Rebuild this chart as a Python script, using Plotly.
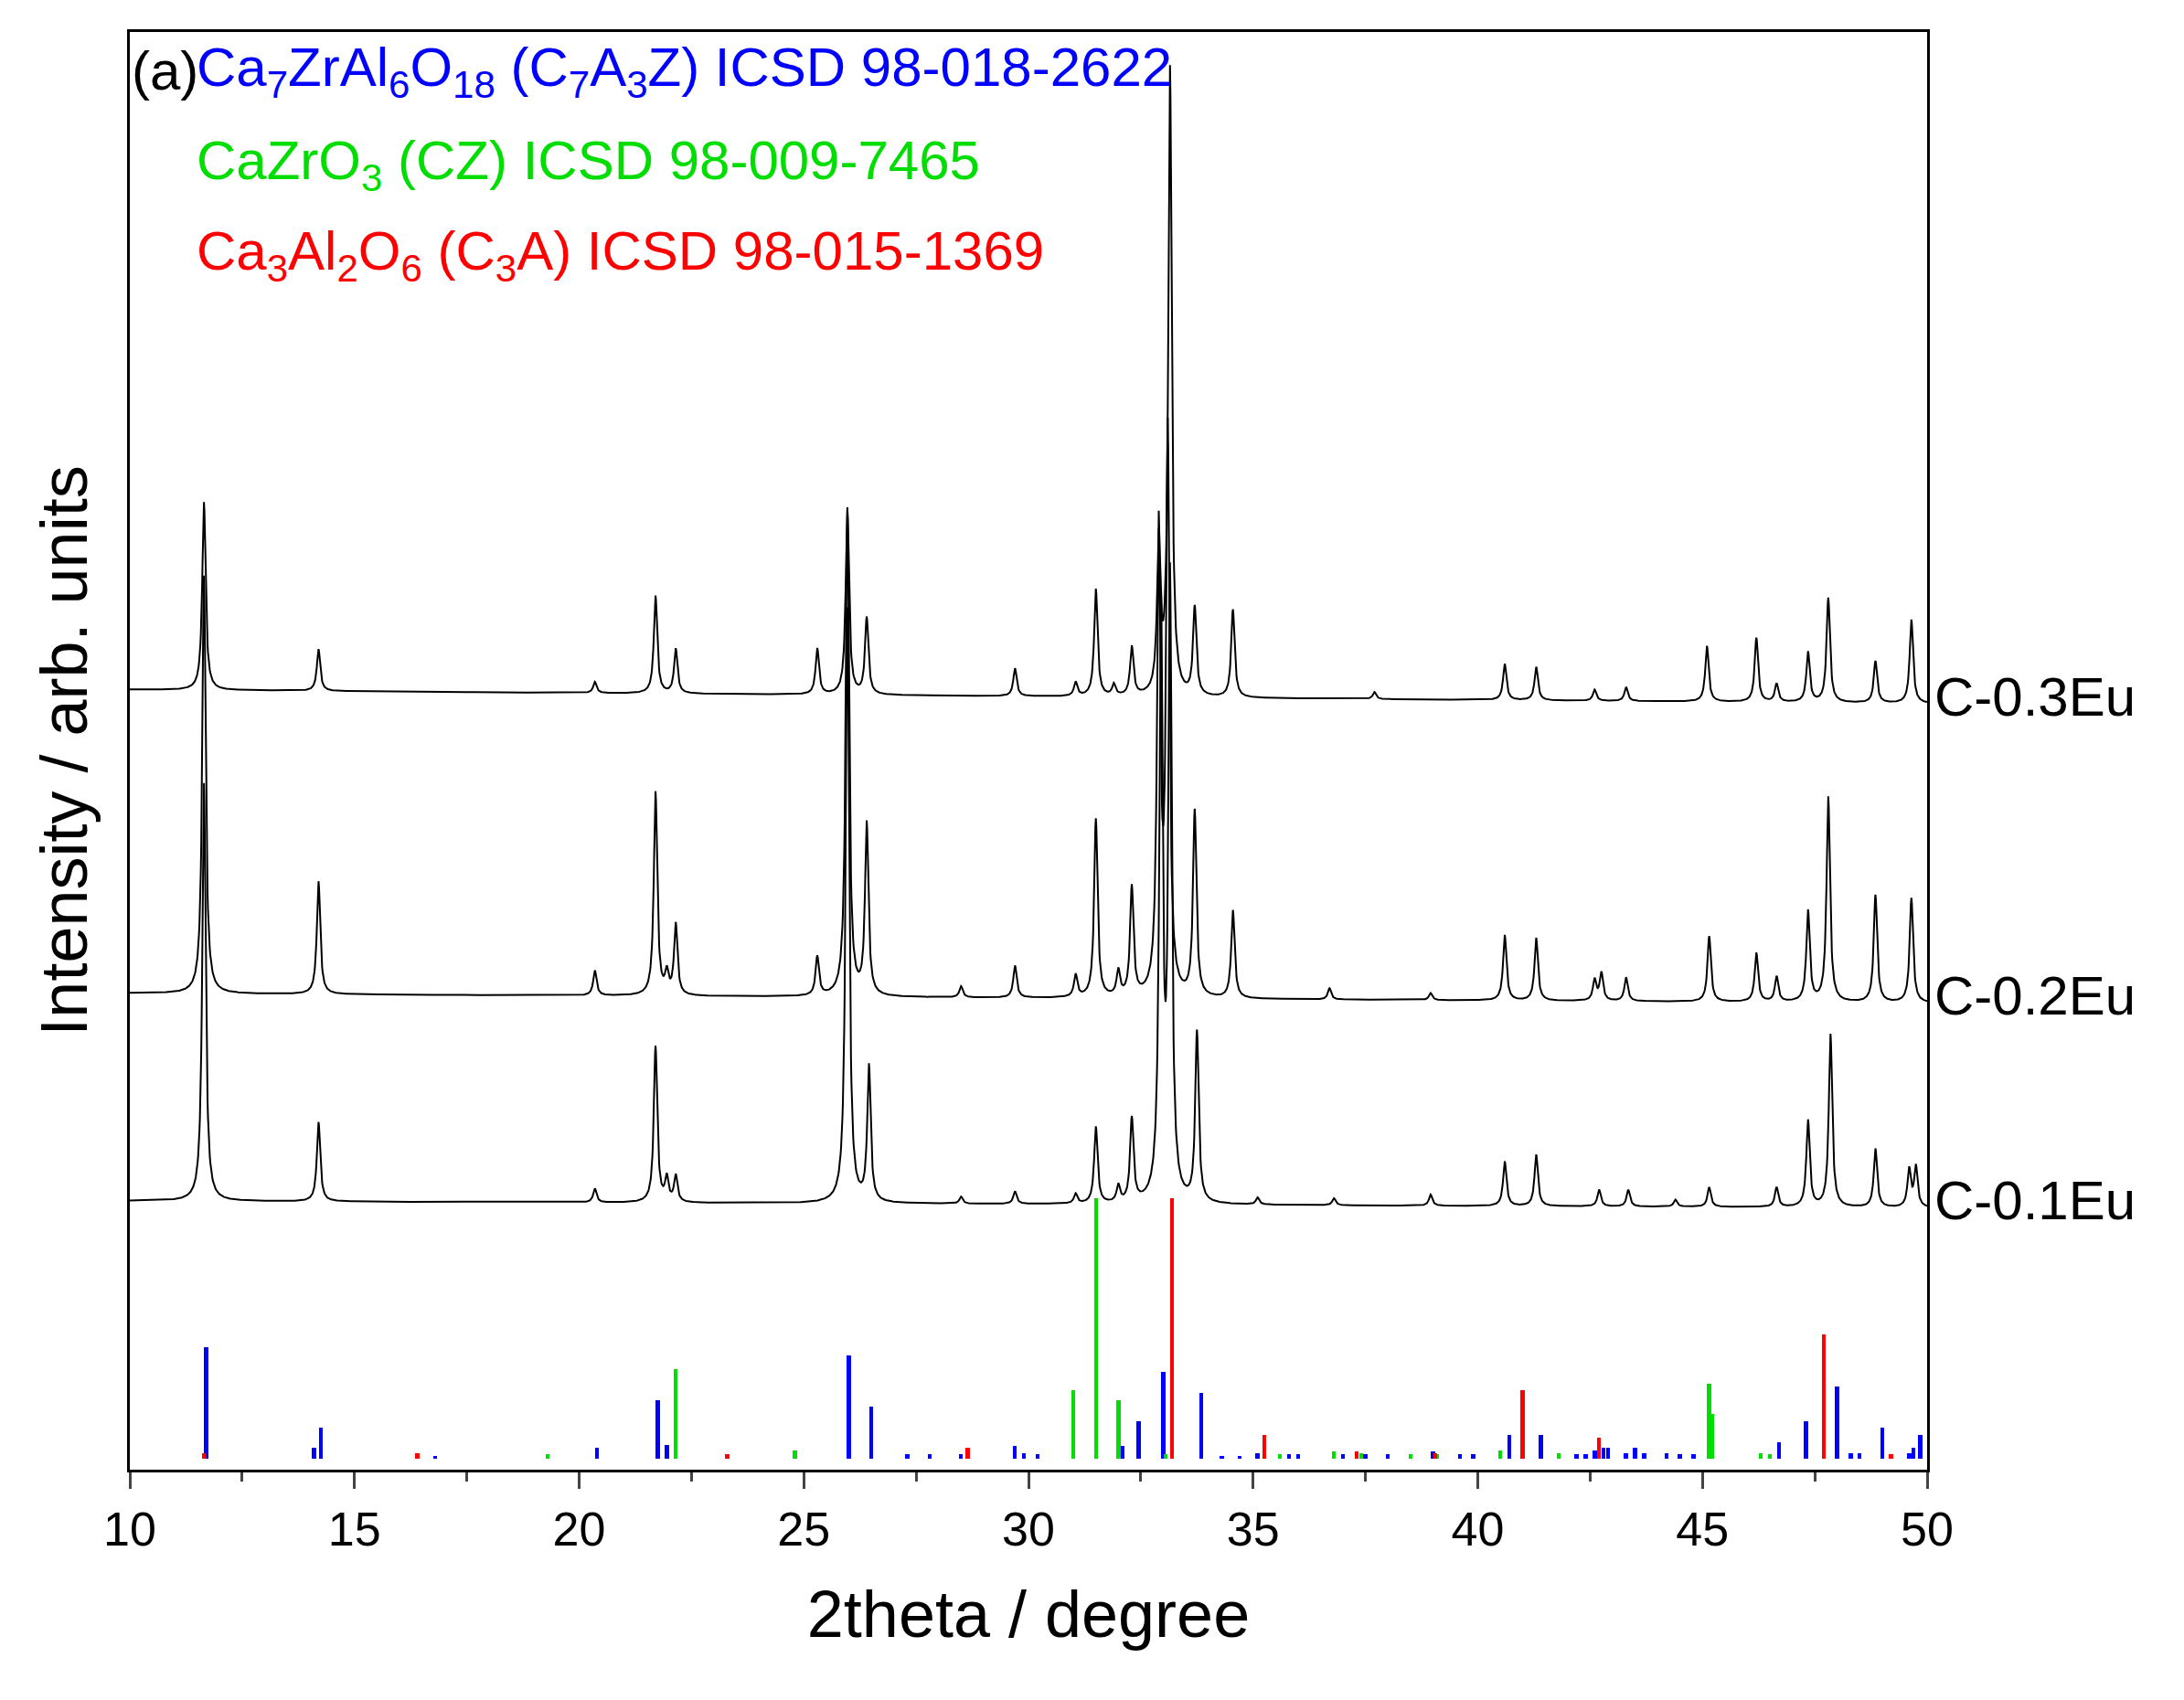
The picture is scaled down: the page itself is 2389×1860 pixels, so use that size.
import numpy as np
import plotly.graph_objects as go

# ---- data (intensity in arbitrary units) ----
samples = ["C-0.1Eu", "C-0.2Eu", "C-0.3Eu"]
baseline_left = [193, 342, 560]
baseline_right = [188, 335, 550]
peaks_01_pos = [11.65, 14.2, 20.35, 21.7, 21.95, 22.15, 25.97, 26.45, 28.5, 29.7, 31.05, 31.5, 32.0, 32.3, 32.95, 33.15, 33.75, 35.1, 36.8, 38.95, 40.6, 41.3, 42.7, 43.35, 44.4, 45.15, 46.65, 47.35, 47.85, 48.85, 49.6, 49.75]
peaks_01_int = [300, 57, 10, 112, 17, 19, 427, 97, 5, 9, 7, 55, 12, 60, 420, 440, 122, 5, 5, 8, 32, 37, 12, 12, 5, 14, 14, 62, 124, 42, 27, 29]
peaks_02_pos = [11.65, 14.2, 20.35, 21.7, 21.95, 22.15, 25.3, 25.97, 26.4, 28.5, 29.7, 31.05, 31.5, 32.0, 32.3, 32.9, 33.1, 33.7, 34.55, 36.7, 38.95, 40.6, 41.3, 42.6, 42.75, 43.3, 45.15, 46.2, 46.65, 47.35, 47.8, 48.85, 49.65]
peaks_02_int = [300, 81, 18, 146, 15, 51, 28, 350, 123, 8, 23, 16, 128, 18, 78, 330, 400, 133, 63, 8, 5, 47, 45, 15, 20, 17, 47, 35, 18, 65, 147, 77, 75]
peaks_03_pos = [11.65, 14.2, 20.35, 21.7, 22.15, 25.3, 25.97, 26.4, 29.7, 31.05, 31.5, 31.9, 32.3, 32.9, 33.15, 33.7, 34.55, 37.7, 40.6, 41.3, 42.6, 43.3, 45.1, 46.2, 46.65, 47.35, 47.8, 48.85, 49.65]
peaks_03_int = [135, 30, 8, 70, 32, 33, 132, 55, 20, 10, 77, 8, 35, 107, 450, 63, 63, 5, 26, 24, 8, 10, 40, 46, 13, 36, 75, 30, 60]

blue_pos = [11.7, 14.1, 14.25, 16.8, 20.4, 21.75, 21.95, 26.0, 26.5, 27.3, 27.8, 28.5, 29.7, 29.9, 30.2, 32.1, 32.45, 33.0, 33.85, 34.3, 34.7, 35.1, 35.8, 36.0, 37.0, 37.5, 38.0, 39.0, 39.6, 39.9, 40.7, 41.4, 42.2, 42.4, 42.6, 42.8, 42.9, 43.3, 43.5, 43.7, 44.2, 44.5, 44.8, 46.7, 47.3, 48.0, 48.3, 48.5, 49.0, 49.6, 49.7, 49.85]
blue_int = [80, 8, 22, 2, 8, 42, 10, 74, 37, 3, 3, 3, 9, 4, 3, 9, 27, 62, 47, 2, 2, 4, 3, 3, 3, 3, 3, 5, 3, 3, 17, 17, 3, 3, 6, 8, 8, 4, 8, 4, 4, 3, 3, 12, 27, 52, 4, 4, 22, 4, 8, 17]
green_pos = [19.3, 22.15, 24.8, 31.0, 31.5, 32.0, 33.05, 35.6, 36.8, 37.4, 38.5, 39.1, 40.5, 41.8, 45.15, 45.22, 46.3, 46.5]
green_int = [3, 64, 6, 49, 187, 42, 3, 3, 5, 4, 3, 3, 6, 4, 54, 32, 4, 3]
red_pos = [11.65, 16.4, 23.3, 28.65, 33.2, 35.25, 37.3, 39.05, 41.0, 42.7, 47.7, 49.2]
red_int = [4, 4, 3, 8, 187, 17, 5, 4, 49, 15, 89, 3]
stick_base = 8

x_ticks = [10, 15, 20, 25, 30, 35, 40, 45, 50]

FONT = "Liberation Sans, Arial, sans-serif"
grid = np.arange(10, 50.001, 0.01)

def profile(pos, inten, bl, br):
    y = bl + (br - bl) * (grid - 10) / 40.0
    w = 0.045
    for p, h in zip(pos, inten):
        y = y + h / (1 + ((grid - p) / w) ** 2)
    return y

fig = go.Figure()
patterns = [(peaks_01_pos, peaks_01_int), (peaks_02_pos, peaks_02_int), (peaks_03_pos, peaks_03_int)]
for i, (pp, pi) in enumerate(patterns):
    fig.add_trace(go.Scatter(x=grid, y=profile(pp, pi, baseline_left[i], baseline_right[i]),
                             mode="lines", line=dict(color="black", width=2), showlegend=False))
    fig.add_annotation(x=50, y=baseline_right[i] + 5, xref="x", yref="y", text=samples[i],
                       showarrow=False, xanchor="left", xshift=6, font=dict(size=60, color="black", family=FONT))

for pos, inten, col in [(blue_pos, blue_int, "blue"), (green_pos, green_int, "#00dd00"), (red_pos, red_int, "red")]:
    fig.add_trace(go.Bar(x=pos, y=inten, base=stick_base, width=0.09, marker=dict(color=col, line=dict(width=0)),
                         showlegend=False))

legend = [("(a)", "black", 0.0, 1004),
          ("Ca<sub>7</sub>ZrAl<sub>6</sub>O<sub>18</sub> (C<sub>7</sub>A<sub>3</sub>Z) ICSD 98-018-2622", "blue", 1.45, 1004),
          ("CaZrO<sub>3</sub> (CZ) ICSD 98-009-7465", "#00dd00", 1.45, 937),
          ("Ca<sub>3</sub>Al<sub>2</sub>O<sub>6</sub> (C<sub>3</sub>A) ICSD 98-015-1369", "red", 1.45, 872)]
for t, c, dx, yy in legend:
    fig.add_annotation(x=10 + dx, y=yy, text=t, showarrow=False, xanchor="left", xshift=0,
                       font=dict(size=60, color=c, family=FONT))

fig.update_layout(width=2389, height=1860, margin=dict(l=134, r=289, t=27, b=260),
                  plot_bgcolor="white", paper_bgcolor="white", barmode="overlay", bargap=0,
                  font=dict(family=FONT, color="black"))
fig.update_xaxes(range=[10, 50], tickvals=x_ticks, ticks="outside", ticklen=18, tickwidth=3,
                 minor=dict(dtick=2.5, ticks="outside", ticklen=10, tickwidth=3),
                 showline=True, linewidth=3, linecolor="black", mirror=True, showgrid=False,
                 tickfont=dict(size=52), title=dict(text="2theta / degree", font=dict(size=72), standoff=40))
fig.update_yaxes(range=[0, 1032], showticklabels=False, ticks="", showgrid=False, zeroline=False,
                 showline=True, linewidth=3, linecolor="black", mirror=True,
                 title=dict(text="Intensity / arb. units", font=dict(size=72), standoff=20))
fig.write_html("out.html")
